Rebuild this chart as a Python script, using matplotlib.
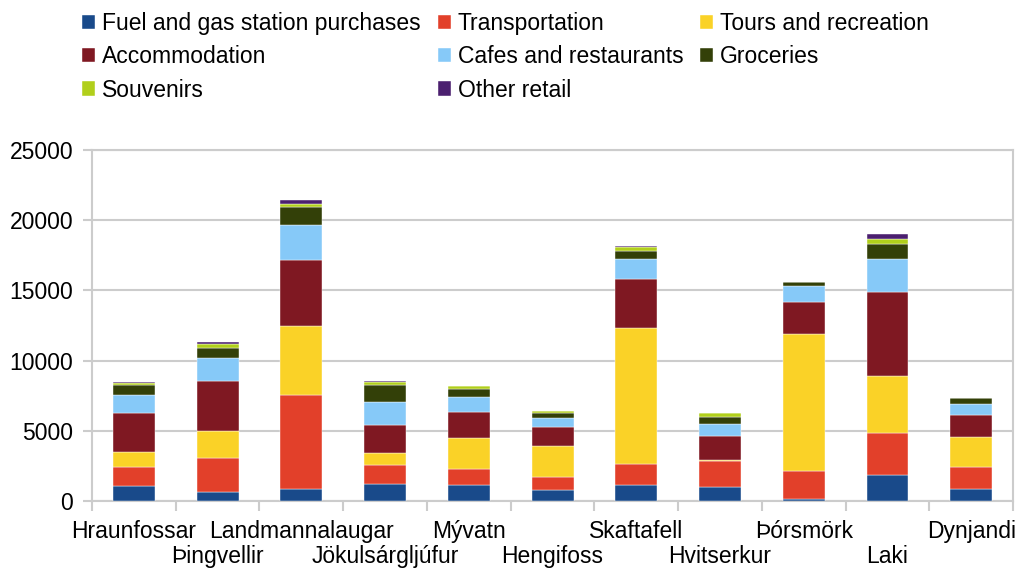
import numpy as np
import matplotlib.pyplot as plt

plt.rcParams['font.family'] = ['Liberation Sans', 'DejaVu Sans']

places = ["Hraunfossar", "Þingvellir", "Landmannalaugar", "Jökulsárgljúfur", "Mývatn",
          "Hengifoss", "Skaftafell", "Hvitserkur", "Þórsmörk", "Laki", "Dynjandi"]

fuel = [1050, 670, 830, 1240, 1120, 760, 1120, 1020, 120, 1880, 830]
transport = [1400, 2400, 6710, 1310, 1140, 930, 1500, 1810, 2020, 2950, 1600]
tours = [1020, 1950, 4900, 900, 2210, 2210, 9710, 70, 9760, 4070, 2140]
accommodation = [2790, 3550, 4740, 1950, 1860, 1400, 3450, 1740, 2290, 5950, 1550]
cafes = [1290, 1640, 2500, 1640, 1100, 640, 1480, 830, 1140, 2400, 760]
groceries = [710, 670, 1260, 1210, 550, 360, 570, 500, 260, 1020, 450]
souvenirs = [120, 290, 210, 190, 190, 120, 240, 330, 0, 360, 0]
other_retail = [120, 170, 260, 120, 30, 0, 120, 0, 0, 380, 0]

series = [
    ("Fuel and gas station purchases", fuel, "#194a8a"),
    ("Transportation", transport, "#e2402a"),
    ("Tours and recreation", tours, "#fad227"),
    ("Accommodation", accommodation, "#7f1822"),
    ("Cafes and restaurants", cafes, "#86c9f8"),
    ("Groceries", groceries, "#334008"),
    ("Souvenirs", souvenirs, "#b1cf1b"),
    ("Other retail", other_retail, "#4b1f6f"),
]

fs = 16.5
grey = "#cccccc"

fig = plt.figure(figsize=(10.23, 5.70), dpi=100)
ax = fig.add_axes([0.0899, 0.121, 0.9005, 0.616])

x = np.arange(len(places))
bottom = np.zeros(len(places))
handles = []
for name, vals, color in series:
    vals = np.array(vals, dtype=float)
    b = ax.bar(x, vals, 0.5, bottom=bottom, color=color, label=name,
               edgecolor="white", linewidth=0.3, zorder=3)
    handles.append(b)
    bottom += vals

ax.set_xlim(-0.5, len(places) - 0.5)
ax.set_ylim(0, 25000)
ax.set_yticks(np.arange(0, 25001, 5000))
ax.yaxis.grid(True, color=grey, linewidth=1.5, zorder=0)
for s in ax.spines.values():
    s.set_color(grey)
    s.set_linewidth(1.5)

# category labels, alternating between two rows
ax.set_xticks(x)
ax.set_xticklabels(places, fontsize=fs)
ax.set_xticks(np.arange(-0.5, len(places)), minor=True)
ax.tick_params(axis="x", which="major", length=0)
for i, t in enumerate(ax.xaxis.get_major_ticks()):
    t.set_pad(14 if i % 2 == 0 else 32)
ax.tick_params(axis="x", which="minor", length=7, color=grey, width=1.5)
ax.tick_params(axis="y", length=6.5, color=grey, width=1.5, labelsize=fs, pad=7)

# legend filled row by row
order = [0, 3, 6, 1, 4, 7, 2, 5]
fig.legend([handles[i] for i in order], [series[i][0] for i in order],
           ncol=3, loc="upper left", bbox_to_anchor=(0.080, 0.979), frameon=False,
           fontsize=fs, handlelength=0.57, handleheight=0.57, handletextpad=0.3,
           columnspacing=0.75, labelspacing=0.45, borderpad=0, borderaxespad=0)

fig.savefig("out.png", dpi=100)
